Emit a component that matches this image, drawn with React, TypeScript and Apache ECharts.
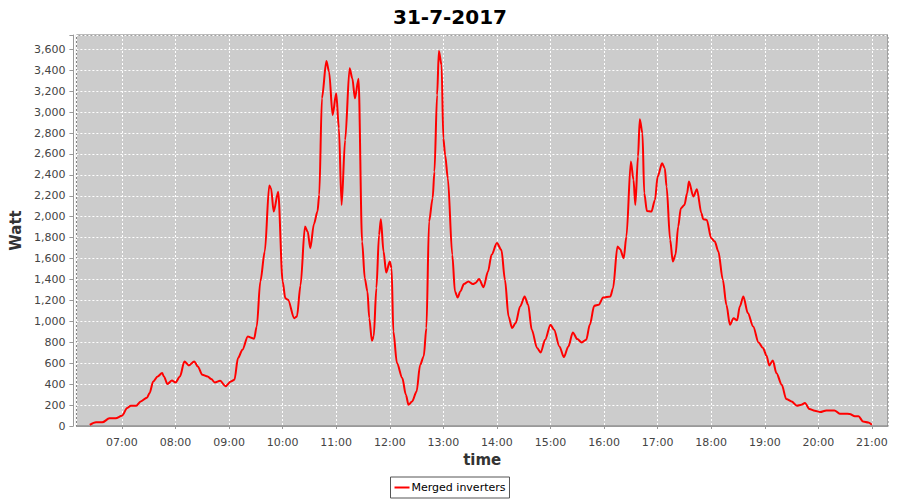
import React, { useEffect, useRef } from "react";
import * as echarts from "echarts";

const chartTitle = "31-7-2017";
const seriesName = "Merged inverters";
const dayDate = [2017, 6, 31];

const times = [
  "06:24", "06:31", "06:38", "06:46", "06:53", "07:00", "07:06", "07:10", "07:16", "07:21",
  "07:28", "07:31", "07:35", "07:40", "07:45", "07:47", "07:51", "07:56", "08:00", "08:05",
  "08:10", "08:15", "08:21", "08:25", "08:30", "08:36", "08:40", "08:44", "08:50", "08:56",
  "09:02", "09:06", "09:10", "09:15", "09:21", "09:24", "09:28", "09:31", "09:35", "09:40",
  "09:45", "09:47", "09:50", "09:55", "10:00", "10:03", "10:06", "10:13", "10:16", "10:20",
  "10:25", "10:28", "10:31", "10:35", "10:39", "10:41", "10:44", "10:49", "10:52", "10:56",
  "11:00", "11:03", "11:06", "11:10", "11:15", "11:18", "11:21", "11:25", "11:29", "11:32",
  "11:35", "11:37", "11:40", "11:42", "11:45", "11:48", "11:50", "11:53", "11:56", "12:00",
  "12:02", "12:04", "12:08", "12:14", "12:18", "12:21", "12:25", "12:30", "12:34", "12:38",
  "12:41", "12:44", "12:48", "12:50", "12:53", "12:55", "12:58", "13:00", "13:02", "13:05",
  "13:10", "13:13", "13:16", "13:19", "13:23", "13:28", "13:33", "13:36", "13:40", "13:45",
  "13:50", "13:54", "14:00", "14:05", "14:09", "14:13", "14:17", "14:21", "14:26", "14:31",
  "14:35", "14:39", "14:45", "14:49", "14:54", "15:00", "15:04", "15:10", "15:15", "15:20",
  "15:25", "15:30", "15:35", "15:40", "15:44", "15:49", "15:54", "15:59", "16:07", "16:10",
  "16:15", "16:18", "16:22", "16:25", "16:30", "16:33", "16:35", "16:38", "16:40", "16:43",
  "16:45", "16:48", "16:53", "16:57", "17:00", "17:05", "17:08", "17:10", "17:14", "17:17",
  "17:20", "17:23", "17:26", "17:30", "17:33", "17:35", "17:40", "17:44", "17:49", "17:51",
  "17:55", "18:00", "18:04", "18:08", "18:13", "18:17", "18:21", "18:25", "18:29", "18:32",
  "18:36", "18:41", "18:47", "18:53", "18:58", "19:02", "19:05", "19:09", "19:13", "19:19",
  "19:24", "19:30", "19:36", "19:41", "19:45", "19:50", "19:56", "20:02", "20:09", "20:18",
  "20:24", "20:30", "20:35", "20:41", "20:45", "20:50", "20:56", "21:00"
];

const watts = [
  10, 35, 35, 73, 73, 98, 172, 194, 194, 235,
  270, 315, 426, 474, 506, 474, 401, 435, 416, 474,
  617, 579, 617, 569, 490, 474, 449, 416, 433, 380,
  426, 442, 649, 729, 856, 846, 834, 951, 1381, 1667,
  2298, 2273, 2049, 2240, 1381, 1222, 1206, 1031, 1047, 1343,
  1906, 1858, 1700, 1929, 2049, 2209, 3132, 3488, 3386, 2973,
  3180, 2846, 2113, 2734, 3419, 3323, 3132, 3320, 1763, 1413,
  1286, 1031, 815, 856, 1318, 1827, 1977, 1667, 1467, 1572,
  1509, 903, 602, 458, 299, 203, 235, 330, 585, 665,
  936, 1954, 2177, 2431, 3164, 3584, 3450, 2750, 2591, 2368,
  1636, 1286, 1228, 1286, 1356, 1381, 1356, 1366, 1404, 1327,
  1476, 1636, 1748, 1684, 1397, 1047, 936, 984, 1142, 1238,
  1158, 920, 745, 703, 824, 967, 920, 760, 659, 760,
  894, 831, 799, 824, 967, 1149, 1158, 1228, 1238, 1315,
  1715, 1690, 1604, 1811, 2527, 2352, 2113, 2575, 2932, 2798,
  2225, 2056, 2049, 2161, 2384, 2511, 2464, 2288, 1779, 1572,
  1636, 1906, 2082, 2113, 2225, 2336, 2193, 2263, 2034, 1977,
  1970, 1795, 1763, 1667, 1397, 1158, 967, 1031, 1009, 1142,
  1238, 1079, 951, 799, 745, 671, 579, 627, 506, 394,
  258, 235, 194, 203, 219, 162, 146, 134, 149, 149,
  117, 117, 115, 92, 92, 44, 34, 12
];

const xTickLabels = [
  "07:00", "08:00", "09:00", "10:00", "11:00", "12:00", "13:00", "14:00",
  "15:00", "16:00", "17:00", "18:00", "19:00", "20:00", "21:00"
];
const xRange = ["06:09", "21:18"];
const yMin = 0;
const yMax = 3737;
const yStep = 200;

function toTs(hm: string): number {
  const [h, m] = hm.split(":").map(Number);
  return Date.UTC(dayDate[0], dayDate[1], dayDate[2], h, m);
}

export default function App() {
  const ref = useRef<HTMLDivElement>(null);

  useEffect(() => {
    if (!ref.current) return;
    const chart = echarts.init(ref.current, undefined, { renderer: "svg" });
    const font = "DejaVu Sans";
    const data = times.map((t, i) => [toTs(t), watts[i]]);
    const labelSet = new Set(xTickLabels);

    chart.setOption({
      animation: false,
      useUTC: true,
      backgroundColor: "#ffffff",
      title: {
        text: chartTitle,
        left: "center",
        top: 2,
        textStyle: { fontFamily: font, fontSize: 20, fontWeight: "bold", color: "#000" },
      },
      legend: {
        data: [{ name: seriesName, icon: "rect" }],
        left: "center",
        top: 477,
        padding: [5, 4, 5, 4],
        itemWidth: 15,
        itemHeight: 2,
        borderColor: "#555",
        borderWidth: 1,
        borderRadius: 0,
        textStyle: { fontFamily: font, fontSize: 11, color: "#000", padding: [0, 0, 0, -3] },
      },
      grid: {
        left: 75,
        right: 12,
        top: 35,
        bottom: 74,
        show: true,
        backgroundColor: "#cccccc",
        borderColor: "#777",
        borderWidth: 1,
        containLabel: false,
      },
      xAxis: {
        type: "time",
        min: toTs(xRange[0]),
        max: toTs(xRange[1]),
        splitNumber: 15,
        minInterval: 3600000,
        maxInterval: 3600000,
        offset: 4,
        name: "time",
        nameLocation: "middle",
        nameGap: 22,
        nameTextStyle: { fontFamily: font, fontSize: 15, fontWeight: "bold", color: "#333" },
        axisLine: { show: true, lineStyle: { color: "#999", width: 1 } },
        axisTick: { show: true, length: 3, lineStyle: { color: "#999" } },
        axisLabel: {
          fontFamily: font,
          fontSize: 11,
          color: "#444",
          margin: 7,
          hideOverlap: false,
          formatter: (v: number) => {
            const d = new Date(v);
            const s =
              String(d.getUTCHours()).padStart(2, "0") + ":" + String(d.getUTCMinutes()).padStart(2, "0");
            return labelSet.has(s) ? s : "";
          },
        },
        splitLine: { show: true, lineStyle: { color: "#ffffff", type: [2, 2], width: 1 } },
      },
      yAxis: {
        type: "value",
        min: yMin,
        max: yMax,
        interval: yStep,
        offset: 3,
        name: "Watt",
        nameLocation: "middle",
        nameGap: 44,
        nameTextStyle: { fontFamily: font, fontSize: 15, fontWeight: "bold", color: "#333" },
        axisLine: { show: true, lineStyle: { color: "#999", width: 1 } },
        axisTick: { show: true, length: 4, lineStyle: { color: "#999" } },
        axisLabel: {
          fontFamily: font,
          fontSize: 11,
          color: "#444",
          margin: 8,
          formatter: (v: number) => (v % yStep === 0 ? v.toLocaleString("en-US") : ""),
        },
        splitLine: { show: true, lineStyle: { color: "#ffffff", type: [2, 2], width: 1 } },
      },
      series: [
        {
          name: seriesName,
          type: "line",
          data,
          showSymbol: false,
          symbol: "none",
          smooth: 0.3,
          smoothMonotone: "x",
          lineStyle: { color: "#ff0000", width: 2 },
          itemStyle: { color: "#ff0000" },
        },
      ],
    });

    return () => chart.dispose();
  }, []);

  return (
    <div
      ref={ref}
      style={{ position: "fixed", left: 0, top: 0, width: 900, height: 500 }}
    />
  );
}
